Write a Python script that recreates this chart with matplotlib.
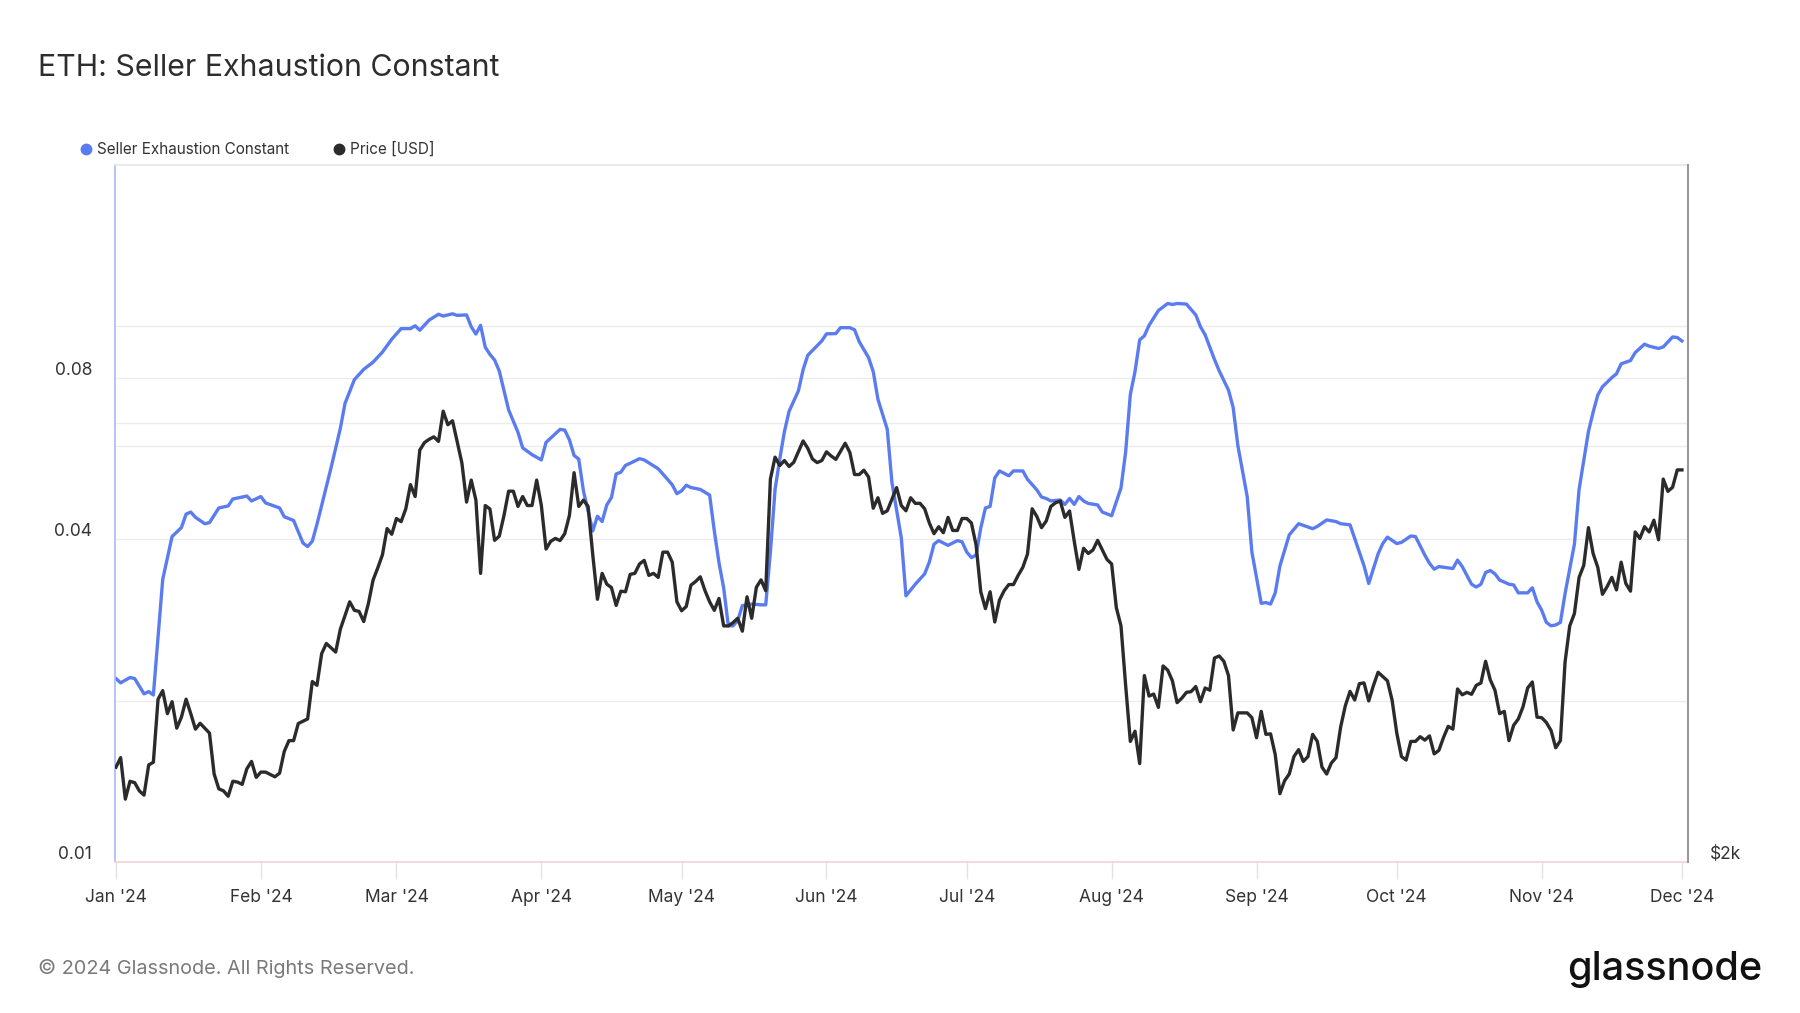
import numpy as np
import pandas as pd
import matplotlib
matplotlib.use("Agg")
import matplotlib.pyplot as plt
import matplotlib.dates as mdates
import matplotlib.transforms as mtransforms
from matplotlib.lines import Line2D
from matplotlib.ticker import NullLocator

plt.rcParams['font.family'] = ['Inter', 'DejaVu Sans']

# days counted from 2024-01-01
start = pd.Timestamp("2024-01-01")

sec_day = [0, 1, 3, 4, 6, 7, 8, 10, 12, 14, 15, 16, 17, 19, 20, 22, 24, 25, 28, 29,
           31, 32, 35, 36, 38, 40, 41, 42, 43, 46, 48, 49, 51, 53, 55, 57, 59, 61, 63, 64,
           65, 67, 69, 70, 72, 73, 75, 76, 77, 78, 79, 80, 81, 82, 84, 86, 87, 89, 91, 92,
           94, 95, 96, 97, 98, 99, 100, 102, 103, 104, 105, 106, 107, 108, 109, 110, 112, 113, 115, 116,
           118, 119, 120, 121, 122, 123, 125, 126, 127, 128, 129, 130, 131, 132, 133, 134, 136, 138, 139, 140,
           141, 142, 143, 144, 146, 147, 148, 150, 151, 152, 154, 155, 157, 158, 159, 161, 162, 163, 165, 166,
           168, 169, 171, 173, 174, 175, 176, 178, 180, 181, 182, 183, 184, 185, 186, 187, 188, 189, 191, 192,
           194, 195, 197, 198, 199, 200, 202, 203, 204, 205, 206, 207, 208, 210, 211, 213, 215, 216, 217, 218,
           219, 220, 221, 223, 225, 226, 227, 229, 231, 232, 233, 235, 236, 238, 239, 240, 242, 243, 244, 245,
           246, 247, 248, 249, 251, 253, 254, 256, 257, 259, 261, 262, 264, 266, 267, 268, 270, 271, 272, 274,
           275, 277, 278, 280, 281, 282, 283, 286, 287, 288, 290, 291, 292, 293, 294, 295, 296, 298, 299, 300,
           302, 303, 304, 305, 306, 307, 308, 309, 310, 312, 313, 315, 316, 317, 318, 320, 321, 322, 324, 325,
           327, 328, 330, 331, 333, 334, 335]
sec_val = [0.0220, 0.0216, 0.0221, 0.0220, 0.0206, 0.0208, 0.0205, 0.0337, 0.0405, 0.0421,
           0.0446, 0.0450, 0.0440, 0.0428, 0.0430, 0.0458, 0.0462, 0.0476, 0.0482, 0.0472,
           0.0481, 0.0468, 0.0458, 0.0441, 0.0434, 0.0394, 0.0388, 0.0397, 0.0427, 0.0544,
           0.0645, 0.0718, 0.0795, 0.0831, 0.0857, 0.0895, 0.0946, 0.0990, 0.0990, 0.1002,
           0.0983, 0.1027, 0.1053, 0.1045, 0.1055, 0.1048, 0.1050, 0.0998, 0.0967, 0.1004,
           0.0914, 0.0886, 0.0865, 0.0825, 0.0698, 0.0634, 0.0593, 0.0576, 0.0563, 0.0607,
           0.0630, 0.0642, 0.0640, 0.0614, 0.0574, 0.0565, 0.0493, 0.0415, 0.0442, 0.0432,
           0.0464, 0.0479, 0.0530, 0.0534, 0.0550, 0.0555, 0.0566, 0.0563, 0.0549, 0.0542,
           0.0518, 0.0506, 0.0487, 0.0493, 0.0505, 0.0500, 0.0496, 0.0490, 0.0484, 0.0415,
           0.0362, 0.0325, 0.0276, 0.0276, 0.0282, 0.0301, 0.0303, 0.0302, 0.0302, 0.0379,
           0.0496, 0.0565, 0.0636, 0.0694, 0.0758, 0.0830, 0.0883, 0.0920, 0.0939, 0.0968,
           0.0969, 0.0994, 0.0994, 0.0985, 0.0936, 0.0874, 0.0823, 0.0731, 0.0642, 0.0511,
           0.0403, 0.0314, 0.0330, 0.0345, 0.0363, 0.0392, 0.0398, 0.0390, 0.0398, 0.0396,
           0.0379, 0.0370, 0.0374, 0.0420, 0.0458, 0.0461, 0.0521, 0.0537, 0.0526, 0.0537,
           0.0537, 0.0518, 0.0495, 0.0480, 0.0477, 0.0472, 0.0474, 0.0465, 0.0477, 0.0465,
           0.0481, 0.0472, 0.0467, 0.0464, 0.0450, 0.0443, 0.0499, 0.0583, 0.0746, 0.0823,
           0.0943, 0.0960, 0.1004, 0.1070, 0.1103, 0.1098, 0.1103, 0.1100, 0.1050, 0.0998,
           0.0964, 0.0867, 0.0826, 0.0760, 0.0705, 0.0599, 0.0481, 0.0379, 0.0339, 0.0304,
           0.0305, 0.0303, 0.0318, 0.0357, 0.0408, 0.0428, 0.0425, 0.0419, 0.0423, 0.0435,
           0.0432, 0.0428, 0.0426, 0.0379, 0.0357, 0.0331, 0.0376, 0.0393, 0.0404, 0.0393,
           0.0395, 0.0406, 0.0405, 0.0374, 0.0361, 0.0352, 0.0356, 0.0353, 0.0366, 0.0356,
           0.0330, 0.0326, 0.0330, 0.0347, 0.0350, 0.0345, 0.0336, 0.0330, 0.0329, 0.0318,
           0.0318, 0.0325, 0.0306, 0.0295, 0.0280, 0.0276, 0.0277, 0.0280, 0.0317, 0.0392,
           0.0496, 0.0636, 0.0691, 0.0744, 0.0771, 0.0802, 0.0815, 0.0851, 0.0863, 0.0893,
           0.0926, 0.0918, 0.0909, 0.0915, 0.0955, 0.0953, 0.0939]

price_day = [0, 1, 2, 3, 4, 5, 6, 7, 8, 9, 10, 11, 12, 13, 14, 15, 16, 17, 18, 19,
             20, 21, 22, 23, 24, 25, 26, 27, 28, 29, 30, 31, 32, 34, 35, 36, 37, 38, 39, 41,
             42, 43, 44, 45, 47, 48, 50, 51, 52, 53, 54, 55, 56, 57, 58, 59, 60, 61, 62, 63,
             64, 65, 66, 67, 68, 69, 70, 71, 72, 73, 74, 75, 76, 77, 78, 79, 80, 81, 82, 83,
             84, 85, 86, 87, 88, 89, 90, 91, 92, 93, 94, 95, 96, 97, 98, 99, 100, 101, 102, 103,
             104, 105, 106, 107, 108, 109, 110, 111, 112, 113, 114, 115, 116, 117, 118, 119, 120, 121, 122, 123,
             124, 125, 126, 127, 128, 129, 130, 131, 132, 133, 134, 135, 136, 137, 138, 139, 140, 141, 142, 143,
             144, 145, 147, 148, 149, 150, 151, 152, 153, 154, 156, 157, 158, 159, 160, 161, 162, 163, 164, 165,
             167, 168, 169, 170, 171, 172, 173, 174, 175, 176, 177, 178, 179, 180, 181, 182, 183, 184, 185, 186,
             187, 188, 189, 190, 191, 192, 193, 194, 195, 196, 197, 198, 199, 200, 201, 202, 203, 204, 205, 206,
             207, 208, 209, 210, 211, 212, 213, 214, 215, 216, 217, 218, 219, 220, 221, 222, 223, 224, 225, 226,
             227, 228, 229, 230, 231, 232, 233, 234, 235, 236, 237, 238, 239, 240, 242, 243, 244, 245, 246, 247,
             248, 249, 250, 251, 252, 253, 254, 255, 256, 257, 258, 259, 260, 261, 262, 263, 264, 265, 266, 267,
             268, 269, 270, 272, 273, 274, 275, 276, 277, 278, 279, 280, 281, 282, 283, 284, 285, 286, 287, 288,
             289, 290, 291, 292, 293, 294, 295, 296, 297, 298, 299, 300, 301, 302, 303, 304, 305, 306, 307, 308,
             309, 310, 311, 312, 313, 314, 315, 316, 317, 318, 319, 320, 321, 322, 323, 324, 325, 326, 327, 328,
             329, 330, 331, 332, 333, 334, 335]
price_val = [2322, 2357, 2208, 2271, 2266, 2237, 2222, 2330, 2340, 2584, 2619, 2526, 2574, 2469, 2512, 2584, 2526, 2465, 2488, 2469,
             2450, 2297, 2244, 2237, 2218, 2271, 2268, 2260, 2316, 2343, 2285, 2304, 2304, 2287, 2300, 2380, 2421, 2421, 2487, 2505,
             2657, 2641, 2776, 2821, 2783, 2885, 3012, 2972, 2967, 2920, 3004, 3117, 3177, 3243, 3380, 3350, 3434, 3417, 3487, 3622,
             3555, 3825, 3870, 3890, 3905, 3877, 4066, 3980, 4005, 3875, 3748, 3524, 3648, 3535, 3150, 3505, 3486, 3318, 3340, 3450,
             3585, 3585, 3500, 3555, 3505, 3505, 3648, 3505, 3273, 3313, 3328, 3317, 3353, 3450, 3691, 3500, 3535, 3500, 3243, 3024,
             3150, 3097, 3080, 2995, 3063, 3060, 3145, 3150, 3197, 3215, 3140, 3150, 3130, 3257, 3257, 3206, 3012, 2970, 2990, 3092,
             3110, 3133, 3066, 3012, 2972, 3028, 2900, 2900, 2915, 2935, 2876, 3036, 2935, 3082, 3118, 3065, 3654, 3782, 3733, 3762,
             3727, 3752, 3880, 3835, 3771, 3750, 3762, 3814, 3789, 3769, 3866, 3810, 3680, 3680, 3705, 3666, 3490, 3548, 3462, 3476,
             3605, 3505, 3476, 3548, 3517, 3517, 3487, 3410, 3353, 3390, 3358, 3440, 3370, 3370, 3434, 3434, 3410, 3294, 3060, 2980,
             3060, 2918, 3020, 3065, 3095, 3095, 3140, 3180, 3247, 3487, 3445, 3385, 3420, 3500, 3520, 3530, 3440, 3475, 3313, 3170,
             3277, 3250, 3268, 3318, 3268, 3220, 3197, 2985, 2900, 2640, 2418, 2457, 2335, 2682, 2597, 2605, 2551, 2723, 2705, 2660,
             2570, 2588, 2612, 2615, 2636, 2574, 2630, 2621, 2757, 2766, 2743, 2682, 2462, 2529, 2529, 2510, 2432, 2535, 2445, 2447,
             2368, 2227, 2273, 2297, 2361, 2387, 2343, 2361, 2445, 2418, 2322, 2297, 2337, 2357, 2474, 2558, 2616, 2581, 2648, 2651,
             2577, 2640, 2696, 2660, 2580, 2450, 2361, 2348, 2418, 2418, 2436, 2423, 2439, 2371, 2384, 2433, 2476, 2465, 2626, 2602,
             2612, 2604, 2641, 2651, 2743, 2664, 2621, 2526, 2535, 2421, 2480, 2505, 2553, 2630, 2655, 2512, 2510, 2491, 2460, 2394,
             2421, 2740, 2900, 2957, 3130, 3190, 3385, 3250, 3180, 3048, 3085, 3130, 3069, 3206, 3100, 3063, 3362, 3328, 3390, 3362,
             3425, 3321, 3654, 3584, 3607, 3707, 3707]

# left axis labels and light grid levels
sec_ticks = [0.01, 0.04, 0.08]
sec_tick_labels = ["0.01", "0.04", "0.08"]
grid_levels = [0.02, 0.04, 0.0598, 0.066, 0.08, 0.1]
price_ticks = [2000]
price_tick_labels = ["$2k"]

sec_dates = start + pd.to_timedelta(sec_day, unit="D")
price_dates = start + pd.to_timedelta(price_day, unit="D")

blue = "#5b7cf0"
dark = "#2b2b2b"

fig = plt.figure(figsize=(18, 10.13), dpi=100)
ax = fig.add_axes([115 / 1800, 1 - 862 / 1013, (1688 - 115) / 1800, (862 - 165) / 1013])
ax2 = ax.twinx()

for g in grid_levels:
    ax.axhline(g, color="#ececec", lw=1, zorder=0)

ax.plot(sec_dates, sec_val, color=blue, lw=2.4, solid_joinstyle="round")
ax2.plot(price_dates, price_val, color=dark, lw=2.4, solid_joinstyle="round")

ax.set_yscale("log")
ax.set_ylim(0.01, 0.2)
ax2.set_yscale("log")
ax2.set_ylim(2000, 5990)
for a in (ax, ax2):
    a.yaxis.set_major_locator(NullLocator())
    a.yaxis.set_minor_locator(NullLocator())

ax.set_xlim(start - pd.Timedelta(hours=5), start + pd.Timedelta(days=336.3))
ax.xaxis.set_major_locator(mdates.MonthLocator())
ax.xaxis.set_major_formatter(mdates.DateFormatter("%b '%y"))
ax.tick_params(axis="x", length=12, width=1, color="#e3e3e3", pad=7.5,
               labelsize=12.5, labelcolor="#333333")

# y tick labels sit slightly above their level
lt = ax.get_yaxis_transform() + mtransforms.ScaledTranslation(-0.23, 0.08, fig.dpi_scale_trans)
for v, s in zip(sec_ticks, sec_tick_labels):
    ax.text(0, v, s, transform=lt, ha="right", va="center", fontsize=12.5, color="#333333")
rt = ax2.get_yaxis_transform() + mtransforms.ScaledTranslation(0.22, 0.08, fig.dpi_scale_trans)
for v, s in zip(price_ticks, price_tick_labels):
    ax2.text(1, v, s, transform=rt, ha="left", va="center", fontsize=12.5, color="#333333")

for a in (ax, ax2):
    for sp in a.spines.values():
        sp.set_visible(False)
ax.spines["left"].set_visible(True)
ax.spines["left"].set_color("#a9b9f7")
ax.spines["bottom"].set_visible(True)
ax.spines["bottom"].set_color("#f0d4d4")
ax.spines["top"].set_visible(True)
ax.spines["top"].set_color("#e6e6e6")
ax2.spines["right"].set_visible(True)
ax2.spines["right"].set_color("#9a9a9a")
for sp in ("left", "bottom", "top"):
    ax.spines[sp].set_linewidth(1.2)
ax2.spines["right"].set_linewidth(1.5)

fig.text(38 / 1800, 1 - 67.5 / 1013, "ETH: Seller Exhaustion Constant", fontsize=21.8,
         color="#2d2d2d", va="center", ha="left")

# legend
fig.add_artist(Line2D([86 / 1800], [1 - 149 / 1013], marker="o", ms=7.5, color=blue,
                      transform=fig.transFigure, lw=0))
fig.text(97 / 1800, 1 - 149 / 1013, "Seller Exhaustion Constant", fontsize=11,
         color="#333333", va="center", ha="left")
fig.add_artist(Line2D([339 / 1800], [1 - 149 / 1013], marker="o", ms=7.5, color=dark,
                      transform=fig.transFigure, lw=0))
fig.text(350 / 1800, 1 - 149 / 1013, "Price [USD]", fontsize=11,
         color="#333333", va="center", ha="left")

fig.text(38 / 1800, 1 - 968 / 1013, "© 2024 Glassnode. All Rights Reserved.", fontsize=14.3,
         color="#7a7a7a", va="center", ha="left")
fig.text(1762 / 1800, 1 - 970 / 1013, "glassnode", fontsize=28.5, fontweight="medium",
         color="#111111", va="center", ha="right")

fig.savefig("out.png", dpi=100)
